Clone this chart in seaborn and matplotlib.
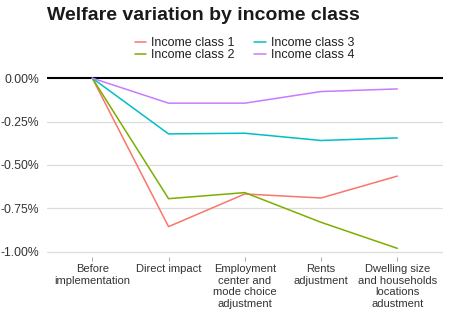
import matplotlib
matplotlib.use("Agg")
import matplotlib.pyplot as plt
import seaborn as sns
import pandas as pd
from matplotlib.ticker import FuncFormatter

# Welfare variation (%) by income class along the adjustment steps
steps = [
    "Before\nimplementation",
    "Direct impact",
    "Employment\ncenter and\nmode choice\nadjustment",
    "Rents\nadjustment",
    "Dwelling size\nand households\nlocations\nadustment",
]
class_names = ["Income class 1", "Income class 2", "Income class 3", "Income class 4"]
class1 = [0.0, -0.855, -0.667, -0.690, -0.564]
class2 = [0.0, -0.694, -0.659, -0.830, -0.980]
class3 = [0.0, -0.321, -0.317, -0.359, -0.344]
class4 = [0.0, -0.144, -0.144, -0.077, -0.062]
colors = ["#F8766D", "#7CAE00", "#00BFC4", "#C77CFF"]
yticks = [-1.00, -0.75, -0.50, -0.25, 0.00]

rows = []
for name, vals in zip(class_names, [class1, class2, class3, class4]):
    for i, v in enumerate(vals):
        rows.append({"step": i, "welfare": v, "group": name})
df = pd.DataFrame(rows)

sns.set_theme(style="white")
plt.rcParams["font.family"] = ["Liberation Sans", "DejaVu Sans"]

fig = plt.figure(figsize=(4.61, 3.27), dpi=100)
ax = fig.add_axes([0.101, 0.214, 0.860, 0.573])

for y in yticks[:-1]:
    ax.axhline(y, color="#dcdcdc", lw=0.9, zorder=0)
ax.axhline(0, color="black", lw=1.5, zorder=1)

sns.lineplot(data=df, x="step", y="welfare", hue="group", hue_order=class_names,
             palette=colors, linewidth=1.1, ax=ax, legend=False, zorder=2)

ax.set_xlim(-0.6, 4.6)
ax.set_ylim(-1.03, 0.049)
ax.set_xticks(range(len(steps)))
ax.set_xticklabels(steps, fontsize=8, color="#333333", linespacing=1.2)
ax.set_yticks(yticks)
ax.yaxis.set_major_formatter(FuncFormatter(lambda v, p: f"{v:.2f}%"))
ax.tick_params(axis="y", labelsize=8.8, labelcolor="#333333", length=0, pad=5)
ax.tick_params(axis="x", length=3, width=0.6, color="#999999", pad=2,
               bottom=True)
ax.set_xlabel("")
ax.set_ylabel("")
for s in ax.spines.values():
    s.set_visible(False)

handles = [plt.Line2D([], [], color=c, lw=1.1) for c in colors]
fig.legend(handles, class_names, loc="center", bbox_to_anchor=(0.53, 0.85),
           ncol=2, frameon=False, fontsize=9, handlelength=0.9,
           handletextpad=0.4, columnspacing=1.6, labelspacing=0.0,
           borderaxespad=0, labelcolor="#222222")

fig.text(0.101, 0.952, "Welfare variation by income class", fontsize=14,
         fontweight="bold", color="#1a1a1a", ha="left", va="center")

fig.savefig("out.png", dpi=100)
